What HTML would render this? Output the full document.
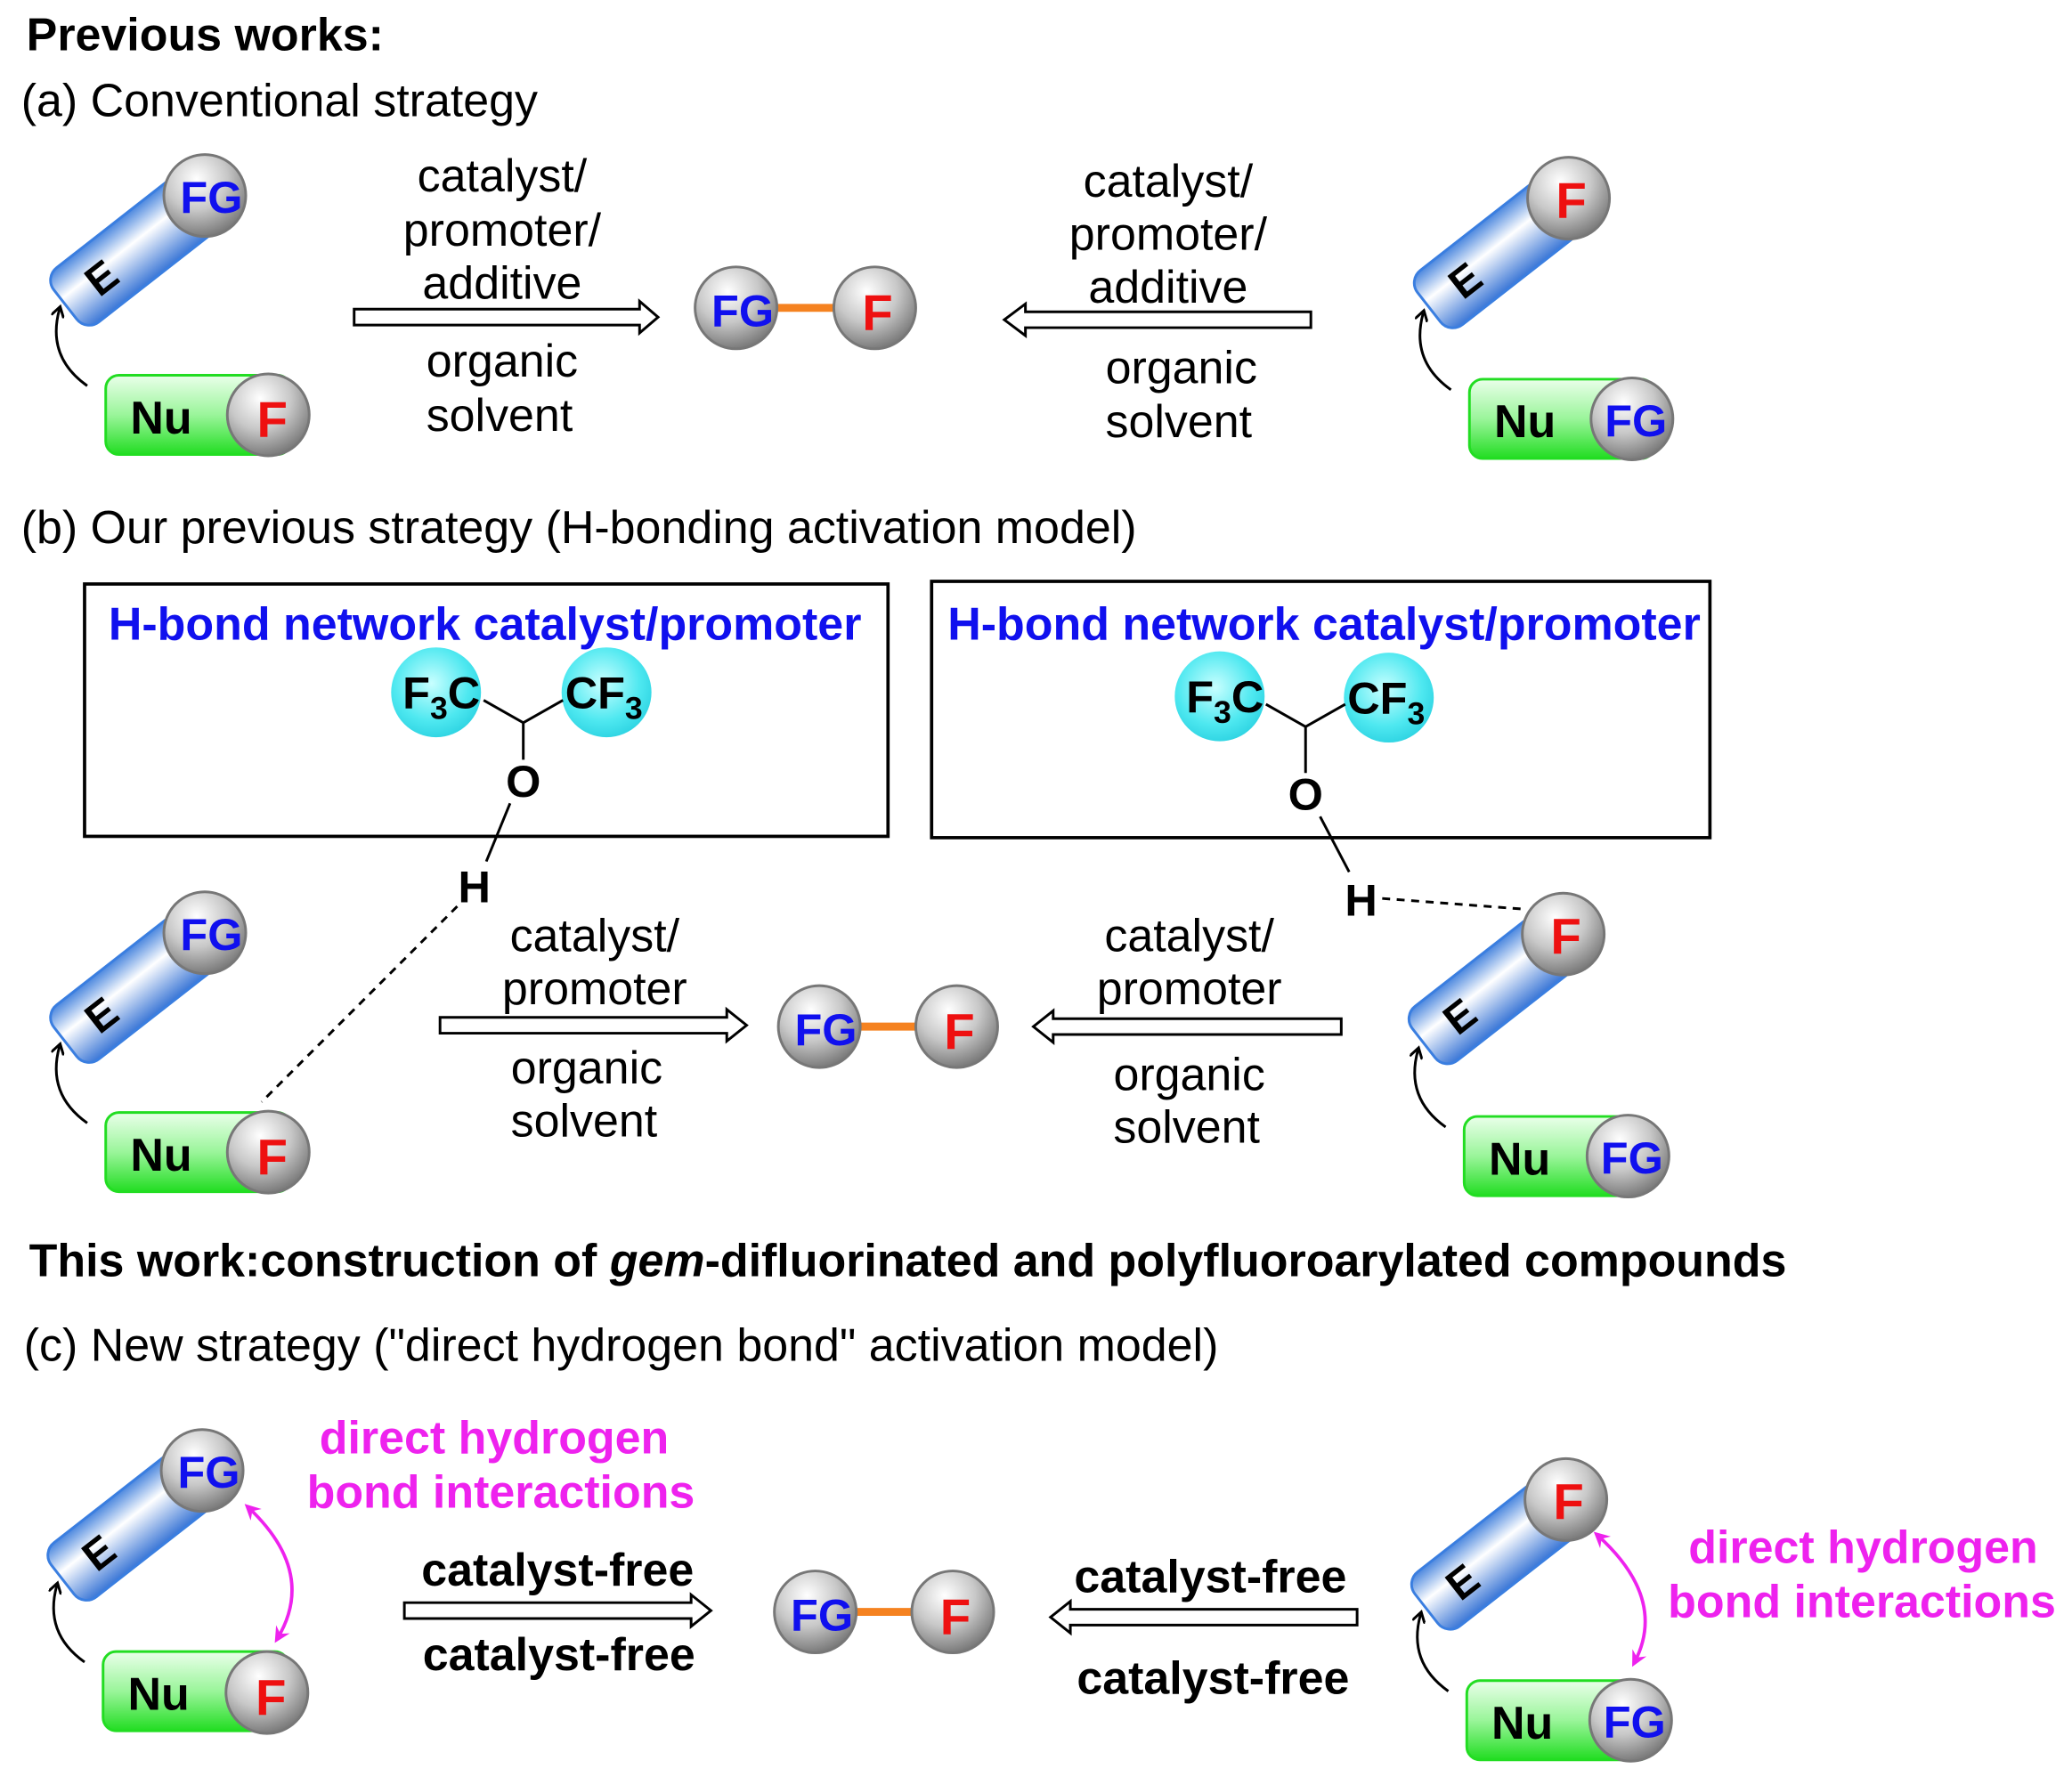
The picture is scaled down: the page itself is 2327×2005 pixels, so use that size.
<!DOCTYPE html>
<html><head><meta charset="utf-8"><style>
html,body{margin:0;padding:0;background:#fff;}
svg{display:block;}
text{font-family:"Liberation Sans",sans-serif;}
</style></head><body>
<svg width="2327" height="2005" viewBox="0 0 1568 1351" xmlns="http://www.w3.org/2000/svg">
<defs>
<linearGradient id="bl" x1="0" y1="0" x2="0" y2="1"><stop offset="0" stop-color="#4a86de"/><stop offset="0.4" stop-color="#ffffff"/><stop offset="1" stop-color="#3a76d6"/></linearGradient>
<linearGradient id="gr" x1="0" y1="0" x2="0" y2="1"><stop offset="0" stop-color="#eaffea"/><stop offset="0.5" stop-color="#9af59a"/><stop offset="1" stop-color="#22dd22"/></linearGradient>
<radialGradient id="sp" cx="0.4" cy="0.3" r="0.75"><stop offset="0" stop-color="#ffffff"/><stop offset="0.5" stop-color="#c8c8c8"/><stop offset="1" stop-color="#707070"/></radialGradient>
<radialGradient id="cy" cx="0.45" cy="0.4" r="0.7"><stop offset="0" stop-color="#c8ffff"/><stop offset="0.6" stop-color="#4ee8f0"/><stop offset="1" stop-color="#22ccdd"/></radialGradient>
<marker id="ah" markerWidth="10" markerHeight="10" refX="6" refY="5" orient="auto" markerUnits="userSpaceOnUse"><path d="M0,0 L8,5 L0,10" fill="none" stroke="#000" stroke-width="2"/></marker>
<marker id="mh" markerWidth="14" markerHeight="14" refX="8" refY="7" orient="auto-start-reverse" markerUnits="userSpaceOnUse"><path d="M0,1 L12,7 L0,13 L4,7 Z" fill="#ee22ee"/></marker>
<g id="blueE"><rect x="-134" y="-26" width="150" height="52" rx="12" fill="url(#bl)" stroke="#3a7ee0" stroke-width="2"/><text x="-100" y="12" font-size="32" font-weight="bold" text-anchor="middle">E</text></g>
<g id="sph"><circle r="31" fill="url(#sp)" stroke="#777" stroke-width="2"/></g>
<g id="green"><rect x="0" y="0" width="140" height="60" rx="10" fill="url(#gr)" stroke="#22dd22" stroke-width="2"/><text x="42" y="44" font-size="35" font-weight="bold" text-anchor="middle">Nu</text></g>
</defs>

<text x="20" y="38" font-size="35" font-weight="bold">Previous works:</text>
<text x="16" y="88" font-size="35">(a) Conventional strategy</text>
<text x="16" y="411" font-size="35">(b)  Our previous strategy (H-bonding activation model)</text>
<text x="22" y="966" font-size="35" font-weight="bold">This work:construction of <tspan font-style="italic">gem</tspan>-difluorinated and polyfluoroarylated compounds</text>
<text x="18" y="1030" font-size="35">(c)  New strategy ("direct hydrogen bond" activation model)</text>

<g transform="translate(155,148) rotate(-38)"><use href="#blueE"/></g>
<use href="#sph" x="155" y="148"/><text x="160" y="161" font-size="34" font-weight="bold" fill="#1010ee" text-anchor="middle">FG</text>
<use href="#green" x="80" y="284"/><use href="#sph" x="203" y="314"/><text x="206" y="331" font-size="38" font-weight="bold" fill="#ee1010" text-anchor="middle">F</text>
<path d="M66,292 Q35,270 45,234" fill="none" stroke="#000" stroke-width="2" marker-end="url(#ah)"/>
<g transform="translate(1187,150) rotate(-38)"><use href="#blueE"/></g>
<use href="#sph" x="1187" y="150"/><text x="1189" y="165" font-size="38" font-weight="bold" fill="#ee1010" text-anchor="middle">F</text>
<use href="#green" x="1112" y="287"/><use href="#sph" x="1235" y="317"/><text x="1238" y="330" font-size="34" font-weight="bold" fill="#1010ee" text-anchor="middle">FG</text>
<path d="M1098,295 Q1067,273 1077,237" fill="none" stroke="#000" stroke-width="2" marker-end="url(#ah)"/>
<g transform="translate(155,706) rotate(-38)"><use href="#blueE"/></g>
<use href="#sph" x="155" y="706"/><text x="160" y="719" font-size="34" font-weight="bold" fill="#1010ee" text-anchor="middle">FG</text>
<use href="#green" x="80" y="842"/><use href="#sph" x="203" y="872"/><text x="206" y="889" font-size="38" font-weight="bold" fill="#ee1010" text-anchor="middle">F</text>
<path d="M66,850 Q35,828 45,792" fill="none" stroke="#000" stroke-width="2" marker-end="url(#ah)"/>
<g transform="translate(1183,707) rotate(-38)"><use href="#blueE"/></g>
<use href="#sph" x="1183" y="707"/><text x="1185" y="722" font-size="38" font-weight="bold" fill="#ee1010" text-anchor="middle">F</text>
<use href="#green" x="1108" y="845"/><use href="#sph" x="1232" y="875"/><text x="1235" y="888" font-size="34" font-weight="bold" fill="#1010ee" text-anchor="middle">FG</text>
<path d="M1094,853 Q1063,831 1073,795" fill="none" stroke="#000" stroke-width="2" marker-end="url(#ah)"/>
<g transform="translate(153,1113) rotate(-38)"><use href="#blueE"/></g>
<use href="#sph" x="153" y="1113"/><text x="158" y="1126" font-size="34" font-weight="bold" fill="#1010ee" text-anchor="middle">FG</text>
<use href="#green" x="78" y="1250"/><use href="#sph" x="202" y="1281"/><text x="205" y="1298" font-size="38" font-weight="bold" fill="#ee1010" text-anchor="middle">F</text>
<path d="M64,1258 Q33,1236 43,1200" fill="none" stroke="#000" stroke-width="2" marker-end="url(#ah)"/>
<g transform="translate(1185,1135) rotate(-38)"><use href="#blueE"/></g>
<use href="#sph" x="1185" y="1135"/><text x="1187" y="1150" font-size="38" font-weight="bold" fill="#ee1010" text-anchor="middle">F</text>
<use href="#green" x="1110" y="1272"/><use href="#sph" x="1234" y="1302"/><text x="1237" y="1315" font-size="34" font-weight="bold" fill="#1010ee" text-anchor="middle">FG</text>
<path d="M1096,1280 Q1065,1258 1075,1222" fill="none" stroke="#000" stroke-width="2" marker-end="url(#ah)"/>

<line x1="585" y1="233" x2="636" y2="233" stroke="#f58220" stroke-width="6"/>
<use href="#sph" x="557" y="233"/><text x="562" y="247" font-size="34" font-weight="bold" fill="#1010ee" text-anchor="middle">FG</text>
<use href="#sph" x="662" y="233"/><text x="664" y="250" font-size="38" font-weight="bold" fill="#ee1010" text-anchor="middle">F</text>
<line x1="648" y1="777" x2="698" y2="777" stroke="#f58220" stroke-width="6"/>
<use href="#sph" x="620" y="777"/><text x="625" y="791" font-size="34" font-weight="bold" fill="#1010ee" text-anchor="middle">FG</text>
<use href="#sph" x="724" y="777"/><text x="726" y="794" font-size="38" font-weight="bold" fill="#ee1010" text-anchor="middle">F</text>
<line x1="645" y1="1220" x2="695" y2="1220" stroke="#f58220" stroke-width="6"/>
<use href="#sph" x="617" y="1220"/><text x="622" y="1234" font-size="34" font-weight="bold" fill="#1010ee" text-anchor="middle">FG</text>
<use href="#sph" x="721" y="1220"/><text x="723" y="1237" font-size="38" font-weight="bold" fill="#ee1010" text-anchor="middle">F</text>

<g fill="#fff" stroke="#000" stroke-width="2">
<path d="M268,234 L484,234 L484,228 L498,240 L484,252 L484,246 L268,246 Z"/>
<path d="M992,236 L776,236 L776,230 L760,242 L776,254 L776,248 L992,248 Z"/>
<path d="M333,770 L550,770 L550,764 L565,776 L550,788 L550,782 L333,782 Z"/>
<path d="M1015,771 L797,771 L797,765 L782,777 L797,789 L797,783 L1015,783 Z"/>
<path d="M306,1213 L523,1213 L523,1207 L538,1219 L523,1231 L523,1225 L306,1225 Z"/>
<path d="M1027,1218 L810,1218 L810,1212 L795,1224 L810,1236 L810,1230 L1027,1230 Z"/>
</g>

<g font-size="35" text-anchor="middle">
<text x="380" y="145">catalyst/</text><text x="380" y="186">promoter/</text><text x="380" y="226">additive</text>
<text x="380" y="285">organic</text><text x="378" y="326">solvent</text>
<text x="884" y="149">catalyst/</text><text x="884" y="189">promoter/</text><text x="884" y="229">additive</text>
<text x="894" y="290">organic</text><text x="892" y="331">solvent</text>
<text x="450" y="720">catalyst/</text><text x="450" y="760">promoter</text>
<text x="444" y="820">organic</text><text x="442" y="860">solvent</text>
<text x="900" y="720">catalyst/</text><text x="900" y="760">promoter</text>
<text x="900" y="825">organic</text><text x="898" y="865">solvent</text>
</g>
<g font-size="35" font-weight="bold" text-anchor="middle">
<text x="422" y="1200">catalyst-free</text><text x="423" y="1264">catalyst-free</text>
<text x="916" y="1205">catalyst-free</text><text x="918" y="1282">catalyst-free</text>
</g>
<g font-size="35" font-weight="bold" fill="#ee22ee" text-anchor="middle">
<text x="374" y="1100">direct hydrogen</text><text x="379" y="1141">bond interactions</text>
<text x="1410" y="1183">direct hydrogen</text><text x="1409" y="1224">bond interactions</text>
</g>
<path d="M188,1141 Q240,1190 210,1240" fill="none" stroke="#ee22ee" stroke-width="2.5" marker-start="url(#mh)" marker-end="url(#mh)"/>
<path d="M1209,1162 Q1262,1210 1237,1258" fill="none" stroke="#ee22ee" stroke-width="2.5" marker-start="url(#mh)" marker-end="url(#mh)"/>

<rect x="64" y="442" width="608" height="191" fill="none" stroke="#000" stroke-width="2.5"/>
<rect x="705" y="440" width="589" height="194" fill="none" stroke="#000" stroke-width="2.5"/>
<text x="367" y="484" font-size="35" font-weight="bold" fill="#1010ee" text-anchor="middle">H-bond network catalyst/promoter</text>
<text x="1002" y="484" font-size="35" font-weight="bold" fill="#1010ee" text-anchor="middle">H-bond network catalyst/promoter</text>
<circle cx="330" cy="524" r="34" fill="url(#cy)"/><circle cx="459" cy="524" r="34" fill="url(#cy)"/>
<path d="M366,530 L396,547 L426,530 M396,547 L396,575" fill="none" stroke="#000" stroke-width="2"/>
<text x="334" y="536" font-size="34" font-weight="bold" text-anchor="middle">F<tspan font-size="24" dy="8">3</tspan><tspan dy="-8">C</tspan></text>
<text x="457" y="536" font-size="34" font-weight="bold" text-anchor="middle">CF<tspan font-size="24" dy="8">3</tspan></text>
<text x="396" y="603" font-size="34" font-weight="bold" text-anchor="middle">O</text>
<line x1="386" y1="608" x2="368" y2="652" stroke="#000" stroke-width="2"/>
<text x="359" y="683" font-size="34" font-weight="bold" text-anchor="middle">H</text>
<line x1="346" y1="686" x2="198" y2="834" stroke="#000" stroke-width="2" stroke-dasharray="6,5"/>
<circle cx="923" cy="527" r="34" fill="url(#cy)"/><circle cx="1051" cy="528" r="34" fill="url(#cy)"/>
<path d="M958,533 L988,550 L1018,533 M988,550 L988,585" fill="none" stroke="#000" stroke-width="2"/>
<text x="927" y="539" font-size="34" font-weight="bold" text-anchor="middle">F<tspan font-size="24" dy="8">3</tspan><tspan dy="-8">C</tspan></text>
<text x="1049" y="540" font-size="34" font-weight="bold" text-anchor="middle">CF<tspan font-size="24" dy="8">3</tspan></text>
<text x="988" y="613" font-size="34" font-weight="bold" text-anchor="middle">O</text>
<line x1="999" y1="618" x2="1021" y2="660" stroke="#000" stroke-width="2"/>
<text x="1030" y="693" font-size="34" font-weight="bold" text-anchor="middle">H</text>
<line x1="1046" y1="680" x2="1152" y2="688" stroke="#000" stroke-width="2" stroke-dasharray="6,5"/>
</svg>
</body></html>
